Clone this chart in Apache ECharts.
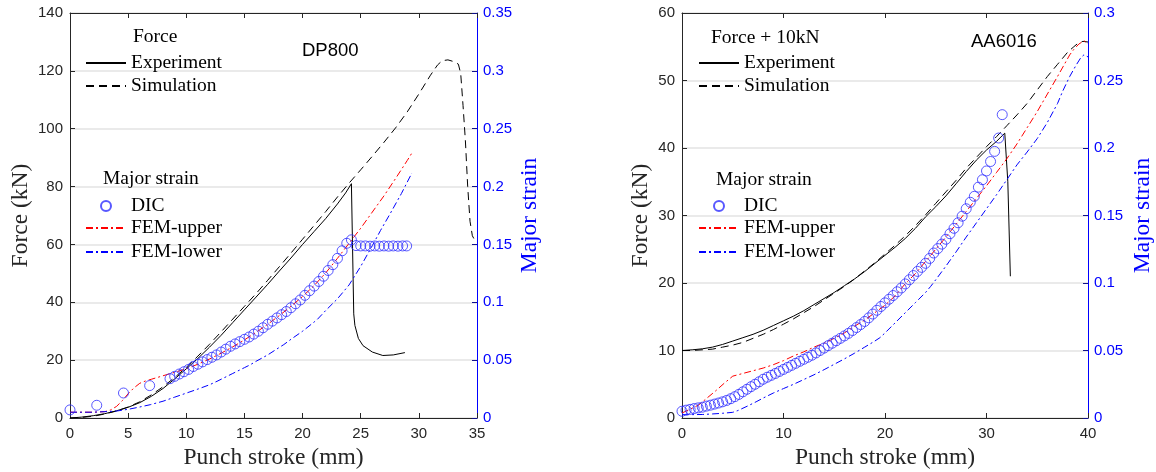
<!DOCTYPE html>
<html>
<head>
<meta charset="utf-8">
<script src="https://cdn.jsdelivr.net/npm/echarts@6/dist/echarts.min.js"></script>
<style>
html,body{margin:0;padding:0;background:#ffffff;}
#chart{width:1156px;height:472px;}
</style>
</head>
<body>
<div id="chart"></div>
<script>
// ---------- DP800 (left panel) ----------
const dp800Experiment = [[0,0],[1,0.3],[2,0.8],[3,1.5],[4,2.5],[5,3.7],[6,5.3],[7,7.5],[8,10.2],[9,13.5],[10,17],[11,20.6],[12,24.5],[13,28.6],[14,33],[15,37.4],[16,41.8],[17,46.2],[18,50.8],[19,55.3],[20,60],[21,64.5],[22,69],[23,74],[23.7,77.8],[24.2,81],[24.4,36],[24.5,32],[24.8,27.5],[25.2,25],[26,22.8],[26.9,21.6],[27.8,21.8],[28.8,22.6]];
const dp800Simulation = [[0,0],[1,0.2],[2,0.6],[3,1.4],[4,2.4],[5,3.8],[6,5.6],[7,8],[8,10.8],[9,14],[10,17.5],[11,21.4],[12,25.5],[13,29.8],[14,34.2],[15,38.6],[16,43],[17,47.6],[18,52.3],[19,57],[20,61.8],[21,66.6],[22,71.4],[23,76.4],[24,81.2],[25,85.8],[26,90.5],[27,95.3],[28,100.3],[29,105.8],[30,112],[31,118.5],[31.6,122],[32,123.5],[32.5,123.8],[33,123.2],[33.4,122.3],[33.6,119],[33.8,108],[34,96],[34.2,80],[34.4,68],[34.6,63],[34.8,61.5]];
const dp800DIC = [[0,0.007],[2.3,0.011],[4.6,0.0216],[6.85,0.028],[8.6,0.034],[9.0,0.036],[9.4,0.038],[9.8,0.040],[10.2,0.042],[10.6,0.0445],[11.0,0.0465],[11.4,0.0485],[11.8,0.0505],[12.2,0.0525],[12.6,0.0545],[13.0,0.057],[13.4,0.0595],[13.8,0.062],[14.2,0.064],[14.6,0.066],[15.0,0.068],[15.4,0.070],[15.8,0.0725],[16.2,0.075],[16.6,0.078],[17.0,0.081],[17.4,0.0837],[17.8,0.0865],[18.2,0.0893],[18.6,0.092],[19.0,0.0953],[19.4,0.0987],[19.8,0.102],[20.2,0.106],[20.6,0.110],[21.0,0.114],[21.4,0.118],[21.8,0.1225],[22.2,0.1275],[22.6,0.1325],[23.0,0.138],[23.4,0.1445],[23.8,0.151],[24.2,0.154],[24.6,0.149],[25.0,0.1487],[25.4,0.1487],[25.8,0.1485],[26.2,0.1487],[26.6,0.1485],[27.0,0.1487],[27.4,0.1485],[27.8,0.1487],[28.2,0.1485],[28.6,0.1487],[28.95,0.1487]];
const dp800FemUpper = [[0,0.005],[1,0.005],[2,0.005],[3,0.0055],[3.5,0.007],[4,0.01],[4.5,0.015],[5,0.021],[5.5,0.026],[6,0.03],[6.5,0.032],[7,0.0335],[8,0.0365],[9,0.0395],[10,0.0425],[11,0.0465],[12,0.051],[13,0.056],[14,0.0615],[15,0.0675],[16,0.074],[17,0.081],[18,0.0885],[19,0.0965],[20,0.105],[21,0.1145],[22,0.1255],[23,0.138],[24,0.151],[25,0.164],[26,0.178],[27,0.192],[28,0.207],[29,0.2225],[29.4,0.229]];
const dp800FemLower = [[0,0.005],[2,0.005],[3,0.0055],[4,0.006],[5,0.0075],[6,0.0095],[6.9,0.0115],[8,0.0145],[9,0.018],[10,0.0215],[11,0.025],[12,0.0287],[12.64,0.0317],[13,0.0335],[14,0.0385],[15,0.0435],[15.5,0.046],[16,0.049],[17,0.0545],[18,0.061],[18.38,0.0634],[19,0.068],[20,0.075],[21,0.083],[21.25,0.085],[22,0.093],[23,0.103],[24,0.115],[25,0.131],[26,0.149],[26.7,0.162],[27.5,0.176],[28.5,0.194],[29.4,0.2117]];

// ---------- AA6016 (right panel) ----------
const aa6016Experiment = [[0,10],[1,10.1],[2,10.25],[3,10.5],[4,10.9],[5,11.4],[6,11.9],[7,12.4],[8,13],[9,13.7],[10,14.4],[11,15.1],[12,15.9],[13,16.8],[14,17.7],[15,18.6],[16,19.6],[17,20.6],[18,21.7],[19,22.9],[20,24.1],[21,25.3],[22,26.6],[23,28.1],[24,29.8],[25,31.3],[26,32.9],[27,34.7],[28,36.5],[29,38.2],[30,39.7],[31,41],[31.8,42.2],[32.1,35],[32.35,21]];
const aa6016Simulation = [[0,10],[1,10],[2,10.1],[3,10.2],[4,10.5],[5,10.8],[6,11.2],[7,11.8],[8,12.4],[9,13.1],[10,13.9],[11,14.7],[12,15.6],[13,16.5],[14,17.5],[15,18.5],[16,19.5],[17,20.6],[18,21.8],[19,23],[20,24.3],[21,25.6],[22,27],[23,28.5],[24,30.1],[25,31.8],[26,33.5],[27,35.2],[28,37],[29,38.6],[30,40.2],[31,41.7],[32,43.3],[33,44.9],[34,46.6],[35,48.6],[36,50.6],[37,52.4],[38,54.2],[38.6,55],[39,55.5],[39.5,55.8],[40,55.7]];
const aa6016DIC = [[0.0,0.005],[0.4,0.0058],[0.8,0.0064],[1.2,0.007],[1.6,0.0075],[2.0,0.008],[2.4,0.0088],[2.8,0.0095],[3.2,0.0103],[3.6,0.0111],[4.0,0.012],[4.4,0.013],[4.8,0.0143],[5.2,0.0158],[5.6,0.0175],[6.0,0.0194],[6.4,0.0213],[6.8,0.0232],[7.2,0.025],[7.6,0.0268],[8.0,0.0287],[8.4,0.0302],[8.8,0.0316],[9.2,0.033],[9.6,0.0345],[10.0,0.036],[10.4,0.0375],[10.8,0.039],[11.2,0.0405],[11.6,0.042],[12.0,0.0435],[12.4,0.045],[12.8,0.0465],[13.2,0.0482],[13.6,0.05],[14.0,0.0518],[14.4,0.0536],[14.8,0.0554],[15.2,0.0572],[15.6,0.059],[16.0,0.0608],[16.4,0.0627],[16.8,0.0648],[17.2,0.067],[17.6,0.0692],[18.0,0.0715],[18.4,0.0742],[18.8,0.077],[19.2,0.0798],[19.6,0.0826],[20.0,0.0853],[20.4,0.088],[20.8,0.0907],[21.2,0.0935],[21.6,0.0963],[22.0,0.0993],[22.4,0.1024],[22.8,0.1055],[23.2,0.1086],[23.6,0.1116],[24.0,0.1146],[24.4,0.1182],[24.8,0.1222],[25.2,0.1255],[25.6,0.1288],[26.0,0.1324],[26.4,0.1365],[26.8,0.1405],[27.2,0.1446],[27.6,0.1495],[28.0,0.155],[28.4,0.1598],[28.8,0.1642],[29.2,0.171],[29.6,0.1765],[30.0,0.183],[30.4,0.19],[30.8,0.1975],[31.2,0.2074],[31.55,0.2247]];
const aa6016FemUpper = [[0,0.0037],[0.8,0.0065],[1.7,0.0099],[2.5,0.015],[3.3,0.02],[4.2,0.026],[5,0.031],[6,0.033],[7,0.035],[8,0.037],[9,0.0395],[10,0.0425],[11,0.046],[12,0.049],[13,0.0525],[14,0.0555],[15,0.059],[16,0.063],[17,0.068],[18,0.0725],[19,0.078],[20,0.0835],[21,0.0905],[22,0.0995],[23,0.107],[24,0.116],[25,0.125],[26,0.134],[27,0.1435],[28,0.153],[29,0.1625],[30,0.172],[31,0.182],[32,0.192],[33,0.203],[34,0.215],[35,0.227],[36,0.24],[37,0.253],[37.6,0.261],[38.2,0.269],[38.6,0.273],[39.1,0.277],[39.6,0.2795],[40,0.277]];
const aa6016FemLower = [[0,0.0025],[1,0.0025],[2,0.0026],[3,0.003],[4,0.0035],[5,0.0042],[5.5,0.0055],[6.5,0.009],[7.3,0.012],[8,0.0148],[9,0.0185],[10,0.0218],[11,0.025],[12,0.0285],[13,0.032],[14,0.0358],[15,0.0398],[16,0.0438],[17,0.048],[18,0.0525],[19,0.057],[19.5,0.0595],[20,0.063],[21,0.0705],[22,0.078],[23,0.0855],[24,0.093],[24.5,0.0975],[25,0.1024],[26,0.1125],[27,0.123],[28,0.134],[29,0.1445],[30,0.155],[31,0.1655],[32,0.1765],[33,0.1875],[34,0.197],[35,0.207],[36,0.219],[37,0.233],[37.5,0.242],[38.2,0.253],[38.8,0.261],[39.3,0.267],[39.6,0.269],[40,0.2675]];

const panelLabels = ['DP800', 'AA6016'];
const forceHeadings = ['Force', 'Force + 10kN'];

// ---------- styling ----------
const SERIF = 'Liberation Serif, Times New Roman, serif';
const SANS = 'Liberation Sans, Arial, Helvetica, sans-serif';
const AX = '#262626';
const BLUE = '#0000ff';
const DASH = [8, 5];
const DASHDOT = [7, 3, 2, 3];
const TITLE_SIZE = 23.5;

function xAxes(grid, max, interval) {
  return [
    { gridIndex: grid, type: 'value', min: 0, max: max, interval: interval, position: 'bottom',
      axisLine: { show: true, onZero: false, lineStyle: { color: AX, width: 1 } },
      axisTick: { show: true, inside: true, length: 5, lineStyle: { color: AX } },
      axisLabel: { margin: 8, fontSize: 15, fontFamily: SANS, color: AX },
      splitLine: { show: false },
      name: 'Punch stroke (mm)', nameLocation: 'middle', nameGap: 27,
      nameTextStyle: { fontFamily: SERIF, fontSize: TITLE_SIZE, color: AX } },
    { gridIndex: grid, type: 'value', min: 0, max: max, interval: interval, position: 'top',
      axisLine: { show: true, onZero: false, lineStyle: { color: AX, width: 1 } },
      axisTick: { show: true, inside: true, length: 5, lineStyle: { color: AX } },
      axisLabel: { show: false }, splitLine: { show: false } }
  ];
}
function yAxes(grid, fmax, finterval, smax, gapL, gapR) {
  return [
    { gridIndex: grid, type: 'value', min: 0, max: fmax, interval: finterval, position: 'left',
      axisLine: { show: true, onZero: false, lineStyle: { color: AX, width: 1 } },
      axisTick: { show: true, inside: true, length: 5, lineStyle: { color: AX } },
      axisLabel: { margin: 7, fontSize: 15, fontFamily: SANS, color: AX },
      splitLine: { show: true, lineStyle: { color: '#e3e3e3', width: 1.5 } },
      name: 'Force (kN)', nameLocation: 'middle', nameRotate: 90, nameGap: gapL,
      nameTextStyle: { fontFamily: SERIF, fontSize: TITLE_SIZE, color: AX } },
    { gridIndex: grid, type: 'value', min: 0, max: smax, interval: 0.05, position: 'right',
      axisLine: { show: true, onZero: false, lineStyle: { color: BLUE, width: 1 } },
      axisTick: { show: true, inside: true, length: 5, lineStyle: { color: '#10108a' } },
      axisLabel: { margin: 6, fontSize: 15, fontFamily: SANS, color: BLUE },
      splitLine: { show: false },
      name: 'Major strain', nameLocation: 'middle', nameRotate: 90, nameGap: gapR,
      nameTextStyle: { fontFamily: SERIF, fontSize: TITLE_SIZE, color: BLUE } }
  ];
}
function lineSeries(name, data, xi, yi, color, type, z) {
  return { type: 'line', name: name, data: data, xAxisIndex: xi, yAxisIndex: yi,
    symbol: 'none', smooth: false, animation: false, z: z,
    lineStyle: { color: color, width: 1, type: type }, itemStyle: { color: color } };
}
function dicSeries(data, xi, yi) {
  return { type: 'scatter', name: 'DIC', data: data, xAxisIndex: xi, yAxisIndex: yi,
    symbol: 'circle', symbolSize: 10, animation: false, z: 5,
    itemStyle: { color: 'rgba(0,0,0,0)', borderColor: '#2e2eff', borderWidth: 1 } };
}
function legendItem(name, left, cy, isDic) {
  const lg = { show: true, data: [name], left: isDic ? left + 15 : left, top: cy - 10, padding: 0,
    itemWidth: 40, itemHeight: isDic ? 10 : 14, symbolKeepAspect: true,
    selectedMode: false,
    textStyle: { fontFamily: SERIF, fontSize: 19.5, color: '#000', lineHeight: 20 } };
  if (!isDic) {
    lg.itemStyle = { opacity: 0, color: 'rgba(0,0,0,0)', borderWidth: 0 };
  }
  return lg;
}
function heading(text, left, top, font, size) {
  return { text: text, left: left, top: top, padding: 0,
    textStyle: { fontFamily: font, fontSize: size, fontWeight: 'normal', color: '#000' } };
}

const option = {
  backgroundColor: '#ffffff',
  animation: false,
  grid: [
    { left: 70, top: 13, width: 407, height: 405, containLabel: false, outerBoundsMode: 'none' },
    { left: 682, top: 13, width: 406, height: 405, containLabel: false, outerBoundsMode: 'none' }
  ],
  xAxis: [].concat(xAxes(0, 35, 5), xAxes(1, 40, 10)),
  yAxis: [].concat(yAxes(0, 140, 20, 0.35, 37, 41), yAxes(1, 60, 10, 0.3, 29, 43)),
  title: [
    heading(forceHeadings[0], 133, 27, SERIF, 19.5),
    heading('Major strain', 103, 169, SERIF, 19.5),
    heading(panelLabels[0], 302, 41, SANS, 18.5),
    heading(forceHeadings[1], 711, 28, SERIF, 19.5),
    heading('Major strain', 716, 170, SERIF, 19.5),
    heading(panelLabels[1], 971, 32, SANS, 18.5)
  ],
  legend: [
    legendItem('Experiment', 85, 63),
    legendItem('Simulation', 85, 86),
    legendItem('DIC', 85, 206, true),
    legendItem('FEM-upper', 85, 228),
    legendItem('FEM-lower', 85, 252),
    legendItem('Experiment', 698, 63),
    legendItem('Simulation', 698, 86),
    legendItem('DIC', 698, 206, true),
    legendItem('FEM-upper', 698, 228),
    legendItem('FEM-lower', 698, 252)
  ],
  series: [
    lineSeries('Experiment', dp800Experiment, 0, 0, '#000000', 'solid', 3),
    lineSeries('Simulation', dp800Simulation, 0, 0, '#000000', DASH, 3),
    lineSeries('FEM-upper', dp800FemUpper, 0, 1, '#ff0000', DASHDOT, 4),
    lineSeries('FEM-lower', dp800FemLower, 0, 1, '#0000ff', DASHDOT, 4),
    dicSeries(dp800DIC, 0, 1),
    lineSeries('Experiment', aa6016Experiment, 2, 2, '#000000', 'solid', 3),
    lineSeries('Simulation', aa6016Simulation, 2, 2, '#000000', DASH, 3),
    lineSeries('FEM-upper', aa6016FemUpper, 2, 3, '#ff0000', DASHDOT, 4),
    lineSeries('FEM-lower', aa6016FemLower, 2, 3, '#0000ff', DASHDOT, 4),
    dicSeries(aa6016DIC, 2, 3)
  ]
};

const chart = echarts.init(document.getElementById('chart'), null, { renderer: 'canvas' });
chart.setOption(option);
</script>
</body>
</html>
